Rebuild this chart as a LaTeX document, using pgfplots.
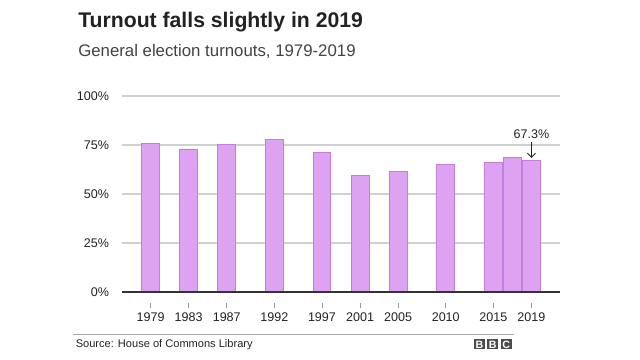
\documentclass[border=0pt]{standalone}
\usepackage{pgfplots}
\pgfplotsset{compat=1.18}
\usepackage{fontspec}
\setmainfont{Liberation Sans}
\usetikzlibrary{arrows.meta}
\definecolor{barfill}{RGB}{222,162,243}
\definecolor{baredge}{RGB}{195,125,218}
\definecolor{gridc}{RGB}{208,208,208}
\definecolor{txt}{RGB}{34,34,34}
\begin{document}
\begin{tikzpicture}
\begin{scope}[x=0.75pt,y=-0.75pt,yshift=270pt]
\path[use as bounding box] (0,0) rectangle (640,360);
\node[anchor=base west, inner sep=0, font=\fontsize{15.9}{18}\selectfont\bfseries, text=txt] at (78,27.3) {Turnout falls slightly in 2019};
\node[anchor=base west, inner sep=0, font=\fontsize{12.6}{15}\selectfont, text=txt!85] at (78,56.7) {General election turnouts, 1979-2019};
\draw[gray!70, line width=0.8pt] (73,334.3) -- (514,334.3);
\node[anchor=base west, inner sep=0, font=\fontsize{8.3}{10}\selectfont, text=txt] at (75.5,348) {Source: House of Commons Library};
\foreach \i/\l in {0/B,1/B,2/C} {
  \fill[black!70] (474+\i*13.3,339) rectangle ++(11,10.5);
  \node[text=white, inner sep=0, font=\fontsize{8}{9}\selectfont\bfseries] at (479.5+\i*13.3,344.4) {\l};
}
\end{scope}
\begin{axis}[at={(91.5pt,51pt)}, anchor=south west, scale only axis,
  width=328.5pt, height=147pt,
  xmin=1976, xmax=2022, ymin=0, ymax=100,
  axis lines*=left, axis line style={draw=none,-},
  ymajorgrids, grid style={gridc, line width=0.8pt},
  ytick={0,25,50,75,100}, yticklabels={0\%,25\%,50\%,75\%,100\%},
  ytick style={draw=none},
  xtick={1979,1983,1987,1992,1997,2001,2005,2010,2015,2019},
  xticklabels={1979,1983,1987,1992,1997,2001,2005,2010,2015,2019},
  tick align=outside, major tick length=3.75pt,
  xtick style={draw=gray!80, line width=0.5pt, yshift=-8pt},
  ticklabel style={font=\fontsize{9.4}{11}\selectfont, text=txt},
  xticklabel style={yshift=-8pt},
  yticklabel style={xshift=-2.5pt},
  clip=false]
\addplot[ybar, bar width=1.86, fill=barfill, draw=baredge, line width=0.6pt] coordinates {
(1979,76.0) (1983,72.7) (1987,75.3) (1992,77.7) (1997,71.4) (2001,59.4)
(2005,61.4) (2010,65.1) (2015,66.1) (2017,68.8) (2019,67.3)};
\draw[black!80, line width=1.5pt] (axis cs:1976,0) -- (axis cs:2022,0);
\node[font=\fontsize{9.4}{11}\selectfont, text=txt] at (axis cs:2019,80.3) {67.3\%};
\draw[txt, line width=0.7pt, -{Straight Barb[length=3pt,width=6pt]}] (axis cs:2019,76.3) -- (axis cs:2019,68.4);
\end{axis}
\end{tikzpicture}
\end{document}
